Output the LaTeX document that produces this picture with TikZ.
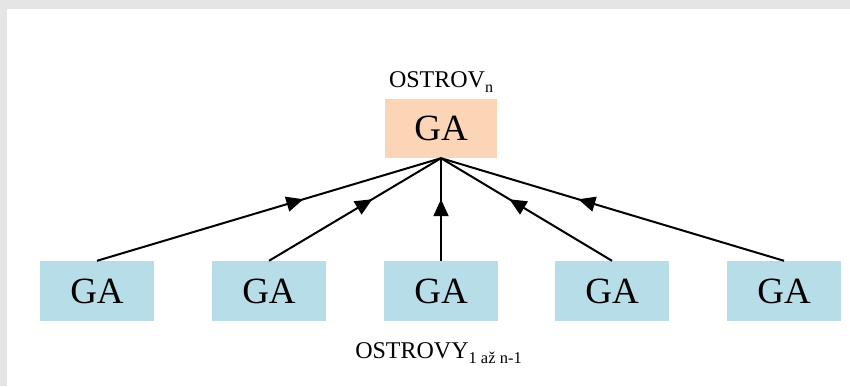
\documentclass[tikz,border=0pt]{standalone}
\usepackage{fontspec}
\setmainfont{Liberation Serif}
\usepackage{tikz}
\usetikzlibrary{arrows.meta,decorations.markings}

\definecolor{peach}{HTML}{FBD5B5}
\definecolor{paleblue}{HTML}{B7DDE8}
\definecolor{framegray}{HTML}{E5E5E5}

\tikzset{
    gabox/.style={rectangle, minimum width=114pt, minimum height=60pt, inner sep=0pt,
        font=\fontsize{37}{40}\selectfont},
    link/.style={line width=2pt, postaction={decorate},
        decoration={markings, mark=at position 0.6 with {\arrow{Triangle[length=17pt,width=15pt]}}}}
}

\begin{document}
\begin{tikzpicture}[x=1pt, y=1pt]
        % Frame
        \fill[framegray] (0,0) rectangle (850,386);
        \fill[white] (7,0) rectangle (850,377);
        \useasboundingbox (0,0) rectangle (850,386);

        % Define the master island
        \node[gabox, fill=peach, minimum width=112pt, minimum height=59pt] (top) at (441,257.5) {GA};
        \node[anchor=base, font=\fontsize{24}{26}\selectfont] (toplabel) at (441,298)
            {OSTROV\raisebox{-5pt}{\fontsize{16}{16}\selectfont n}};

        % Define the other islands
        \node[gabox, fill=paleblue] (ga1) at (97,95) {GA};
        \node[gabox, fill=paleblue] (ga2) at (269,95) {GA};
        \node[gabox, fill=paleblue] (ga3) at (441,95) {GA};
        \node[gabox, fill=paleblue] (ga4) at (612,95) {GA};
        \node[gabox, fill=paleblue] (ga5) at (784,95) {GA};
        \node[anchor=base, font=\fontsize{24}{26}\selectfont] (botlabel) at (438.5,28)
            {OSTROVY\raisebox{-5pt}{\fontsize{16.5}{17}\selectfont 1 až n-1}};

        % Define the edges (towards the master)
        \draw[link] (ga1.north) -- (top.south);
        \draw[link] (ga2.north) -- (top.south);
        \draw[link] (ga3.north) -- (top.south);
        \draw[link] (ga4.north) -- (top.south);
        \draw[link] (ga5.north) -- (top.south);

    \end{tikzpicture}
\end{document}
